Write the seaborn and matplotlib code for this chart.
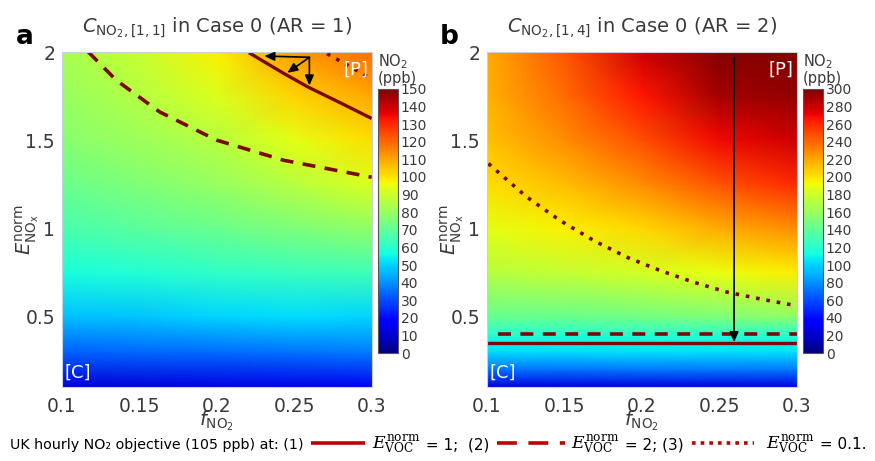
import numpy as np
import matplotlib
matplotlib.use("Agg")
import matplotlib.pyplot as plt
import seaborn as sns
from matplotlib.lines import Line2D

# ---------------- data ----------------
f_values = [0.1, 0.15, 0.2, 0.25, 0.3]

# panel a: NO2 (ppb), rows = E_NOx levels, columns = f_NO2 values
E_left = [0.1, 0.3, 0.5, 0.75, 1.0, 1.25, 1.5, 1.75, 2.0]
no2_left = [
    [12, 12, 13, 14, 15],
    [33, 34, 35, 36, 37],
    [47, 48, 50, 51, 50],
    [57, 59, 61, 63, 64],
    [66, 69, 72, 75, 79],
    [72, 76, 80, 86, 92],
    [77, 81, 86, 94, 101],
    [80, 85, 92, 103, 110],
    [83, 89, 98, 112, 119],
]

# panel b
E_right = [0.1, 0.2, 0.3, 0.4, 0.5, 0.75, 1.0, 1.25, 1.5, 1.75, 2.0]
no2_right = [
    [25, 25, 25, 25, 25],
    [72, 72, 73, 73, 73],
    [103, 103, 104, 104, 104],
    [120, 120, 121, 121, 121],
    [142, 144, 147, 152, 158],
    [172, 176, 182, 190, 198],
    [188, 196, 205, 218, 228],
    [202, 213, 228, 247, 260],
    [212, 228, 248, 270, 280],
    [216, 238, 266, 290, 295],
    [218, 246, 280, 298, 298],
]

# 105 ppb objective curves
a_solid_f = [0.2206, 0.243, 0.259, 0.28, 0.2998]
a_solid_E = [1.996, 1.879, 1.80, 1.71, 1.623]
a_dash_f = [0.117, 0.135, 0.163, 0.1998, 0.243, 0.2998]
a_dash_E = [2.0, 1.84, 1.66, 1.50, 1.386, 1.29]
a_dot_f = [0.271, 0.286, 0.3]
a_dot_E = [1.99, 1.917, 1.845]

b_solid_f = [0.1, 0.3]
b_solid_E = [0.352, 0.352]
b_dash_f = [0.107, 0.3]
b_dash_E = [0.398, 0.398]
b_dot_f = [0.1009, 0.1256, 0.147, 0.1686, 0.190, 0.2116, 0.233, 0.255, 0.276, 0.2987]
b_dot_E = [1.367, 1.178, 1.045, 0.932, 0.837, 0.761, 0.695, 0.638, 0.600, 0.5625]

# arrows (data coordinates): origin and tips
a_arrow_origin = (0.2596, 1.97)
a_arrow_tips = [(0.2305, 1.977), (0.2454, 1.882), (0.2596, 1.81)]
b_arrow_origin = (0.2594, 1.97)
b_arrow_tip = (0.2594, 0.354)

x_ticks = [0.1, 0.15, 0.2, 0.25, 0.3]
x_ticklabels = ["0.1", "0.15", "0.2", "0.25", "0.3"]
y_ticks = [0.5, 1.0, 1.5, 2.0]
y_ticklabels = ["0.5", "1", "1.5", "2"]
cb_ticks_left = list(range(0, 151, 10))
cb_ticks_right = list(range(0, 301, 20))

titles = [r"$C_{\mathrm{NO_2},[1,1]}$ in Case 0 (AR = 1)",
          r"$C_{\mathrm{NO_2},[1,4]}$ in Case 0 (AR = 2)"]

# ---------------- style ----------------
sns.set_theme(style="white")
plt.rcParams['font.family'] = ['DejaVu Sans']
plt.rcParams['mathtext.fontset'] = 'dejavusans'

W, H = 875, 461
LINE = '#7a0a0a'
LEG = '#c00000'
TXT = '#3a3a3a'

fig = plt.figure(figsize=(W / 100, H / 100), dpi=100)
fig.patch.set_facecolor('white')


def fx(px):
    return px / W


def fy(py):
    return 1 - py / H


axL = fig.add_axes([fx(62), fy(387), 310 / W, 335 / H])
axR = fig.add_axes([fx(487), fy(387), 310 / W, 335 / H])
caxL = fig.add_axes([fx(378), fy(353), 20 / W, 264 / H])
caxR = fig.add_axes([fx(803), fy(353), 20 / W, 264 / H])


def draw_field(ax, Es, vals, vmax):
    F, E = np.meshgrid(np.array(f_values), np.array(Es))
    return ax.pcolormesh(F, E, np.array(vals, dtype=float), cmap='jet',
                         vmin=0, vmax=vmax, shading='gouraud', rasterized=True)


mL = draw_field(axL, E_left, no2_left, 150)
mR = draw_field(axR, E_right, no2_right, 300)


def curve(ax, xs, ys, kind):
    sns.lineplot(x=xs, y=ys, ax=ax, color=LINE, sort=False, estimator=None,
                 legend=False)
    ln = ax.lines[-1]
    if kind == 'solid':
        ln.set_linewidth(2.4)
        ln.set_solid_capstyle('butt')
    elif kind == 'dash':
        ln.set_linewidth(2.6)
        ln.set_dashes((3.6, 2.6))
        ln.set_dash_capstyle('butt')
    else:
        ln.set_linewidth(2.6)
        ln.set_dashes((1.0, 1.9))
        ln.set_dash_capstyle('butt')


curve(axL, a_solid_f, a_solid_E, 'solid')
curve(axL, a_dash_f, a_dash_E, 'dash')
curve(axL, a_dot_f, a_dot_E, 'dot')
curve(axR, b_solid_f, b_solid_E, 'solid')
curve(axR, b_dash_f, b_dash_E, 'dash')
curve(axR, b_dot_f, b_dot_E, 'dot')

arrowkw = dict(arrowstyle='-|>,head_length=0.5,head_width=0.22', color='black',
               lw=1.2, shrinkA=0, shrinkB=0)
for tip in a_arrow_tips:
    axL.annotate('', xy=tip, xytext=a_arrow_origin, arrowprops=arrowkw)
axR.annotate('', xy=b_arrow_tip, xytext=b_arrow_origin, arrowprops=arrowkw)

for ax, title, lab, lx in [(axL, titles[0], 'a', 25), (axR, titles[1], 'b', 449)]:
    ax.set_xlim(0.1, 0.3)
    ax.set_ylim(0.1, 2.0)
    ax.set_xticks(x_ticks)
    ax.set_xticklabels(x_ticklabels)
    ax.set_yticks(y_ticks)
    ax.set_yticklabels(y_ticklabels)
    ax.tick_params(axis='both', length=0, labelsize=13.5, colors=TXT)
    ax.tick_params(axis='x', pad=7)
    ax.tick_params(axis='y', pad=5)
    for s in ax.spines.values():
        s.set_color('#c8d0e0')
        s.set_linewidth(0.8)
    ax.set_title(title, fontsize=14, color=TXT, pad=14)
    ax.set_xlabel(r"$f_{\mathrm{NO_2}}$", fontsize=14, color=TXT)
    ax.xaxis.set_label_coords(0.5, -0.065)
    ax.set_ylabel(r"$E^{\mathrm{norm}}_{\mathrm{NO_x}}$", fontsize=14, color=TXT)
    ax.yaxis.set_label_coords(-0.065, 0.47)
    ax.text(0.987, 0.975, '[P]', transform=ax.transAxes, ha='right', va='top',
            color='white', fontsize=13)
    ax.text(0.008, 0.015, '[C]', transform=ax.transAxes, ha='left', va='bottom',
            color='white', fontsize=13)
    fig.text(fx(lx), fy(44), lab, fontsize=19, fontweight='bold', color='black',
             ha='center', va='baseline')

for cax, m, ticks, px in [(caxL, mL, cb_ticks_left, 378), (caxR, mR, cb_ticks_right, 803)]:
    cb = fig.colorbar(m, cax=cax, ticks=ticks)
    cb.ax.tick_params(length=0, labelsize=10, colors=TXT, pad=2)
    cb.outline.set_edgecolor('#555555')
    cb.outline.set_linewidth(0.8)
    fig.text(fx(px), fy(52), "NO$_2$\n(ppb)", fontsize=10.5, color=TXT,
             ha='left', va='top', linespacing=1.05)

# ---------------- bottom legend ----------------
renderer = fig.canvas.get_renderer()
yb = fy(449)
yl = fy(443)
legfam = ['Liberation Sans Narrow', 'DejaVu Sans']
E_lab = r"$E^{\mathrm{norm}}_{\mathrm{VOC}}$"


def put_text(s, xpx, size=11):
    t = fig.text(fx(xpx), yb, s, fontsize=size, family=legfam, color='black',
                 ha='left', va='baseline', math_fontfamily='dejavuserif')
    bb = t.get_window_extent(renderer)
    return bb.x1


def put_line(x0, length, kind):
    ln = Line2D([fx(x0), fx(x0 + length)], [yl, yl], transform=fig.transFigure,
                color=LEG, lw=2.6)
    if kind == 'dash':
        ln.set_dashes((5.5, 3.2))
        ln.set_dash_capstyle('butt')
    elif kind == 'dot':
        ln.set_dashes((1.0, 1.4))
        ln.set_dash_capstyle('butt')
    else:
        ln.set_solid_capstyle('butt')
    fig.add_artist(ln)
    return x0 + length


x = put_text("UK hourly NO₂ objective (105 ppb) at: (1)", 10, size=10.3)
x = put_line(x + 7, 54, 'solid')
x = put_text(E_lab, x + 7, size=12.5)
x = put_text(" = 1;  (2)", x + 1)
x = put_line(x + 8, 68, 'dash')
x = put_text(E_lab, x + 6, size=12.5)
x = put_text(" = 2; (3)", x + 1)
x = put_line(x + 8, 62, 'dot')
x = put_text(E_lab, x + 12, size=12.5)
x = put_text(" = 0.1.", x + 1)

fig.savefig("out.png", dpi=100)
